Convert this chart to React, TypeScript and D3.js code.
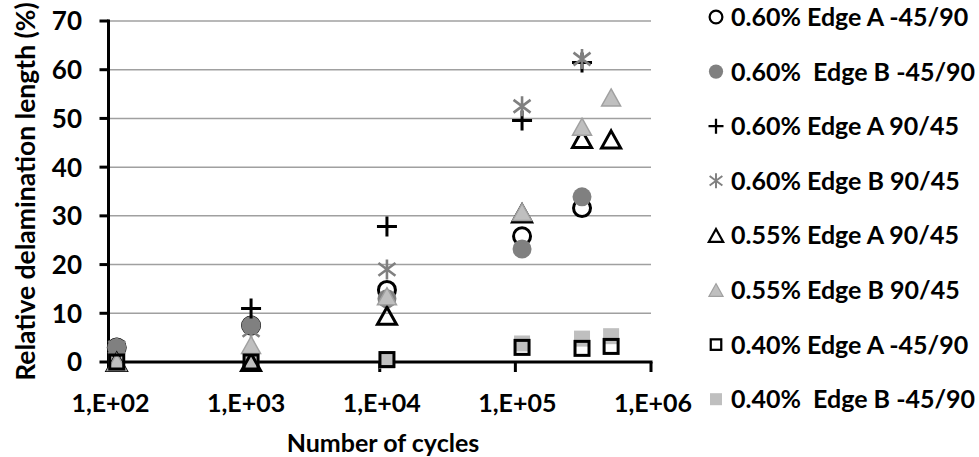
import React from "react";
import * as d3 from "d3";

const cycles = [115, 1125, 11300, 112000, 310000, 508000];
const yTicks = [0, 10, 20, 30, 40, 50, 60, 70];
const xTicks = [1e2, 1e3, 1e4, 1e5, 1e6];
const xTickLabels = ["1,E+02", "1,E+03", "1,E+04", "1,E+05", "1,E+06"];

const s060A_m45 = [3, 7.5, 14.8, 25.8, 31.6, null];
const s060B_m45 = [3, 7.5, 13, 23.2, 33.9, null];
const s060A_90 = [null, 11, 27.8, 49.6, 61.5, null];
const s060B_90 = [3, 6.5, 19, 52.5, 62.2, null];
const s055A_90 = [0, 0, 9.5, 30.5, 45.8, 45.7];
const s055B_90 = [0, 3.5, 13.5, 30.8, 48.3, 54.3];
const s040A_m45 = [0, 0, 0.5, 3, 2.8, 3.2];
const s040B_m45 = [0, 0, 0.3, 3.8, 4.8, 5.3];

const legendLabels = [
  "0.60% Edge A -45/90",
  "0.60%  Edge B -45/90",
  "0.60% Edge A 90/45",
  "0.60% Edge B 90/45",
  "0.55% Edge A 90/45",
  "0.55% Edge B 90/45",
  "0.40% Edge A -45/90",
  "0.40%  Edge B -45/90",
];

type Kind = "openCircle" | "grayCircle" | "plus" | "star" | "openTri" | "grayTri" | "openSq" | "graySq";

const series: { kind: Kind; values: (number | null)[]; label: string }[] = [
  { kind: "openCircle", values: s060A_m45, label: legendLabels[0] },
  { kind: "grayCircle", values: s060B_m45, label: legendLabels[1] },
  { kind: "plus", values: s060A_90, label: legendLabels[2] },
  { kind: "star", values: s060B_90, label: legendLabels[3] },
  { kind: "openTri", values: s055A_90, label: legendLabels[4] },
  { kind: "grayTri", values: s055B_90, label: legendLabels[5] },
  { kind: "openSq", values: s040A_m45, label: legendLabels[6] },
  { kind: "graySq", values: s040B_m45, label: legendLabels[7] },
];
const drawOrder = [7, 0, 1, 2, 3, 4, 5, 6];

const FONT = "Lato, 'Open Sans', sans-serif";

function Marker({ kind, x, y, s }: { kind: Kind; x: number; y: number; s: number }) {
  switch (kind) {
    case "openCircle":
      return <circle cx={x} cy={y} r={8.5 * s} fill="none" stroke="#000" strokeWidth={3 * s} />;
    case "grayCircle":
      return <circle cx={x} cy={y} r={9.5 * s} fill="#808080" />;
    case "plus": {
      const a = 10 * s;
      return (
        <path d={`M${x - a},${y}H${x + a}M${x},${y - a}V${y + a}`} stroke="#000" strokeWidth={3 * s} fill="none" />
      );
    }
    case "star": {
      const a = 10 * s;
      const d = 8.5 * s;
      return (
        <path
          d={`M${x},${y - a}V${y + a}M${x - d},${y - d * 0.75}L${x + d},${y + d * 0.75}M${x - d},${y + d * 0.75}L${x + d},${y - d * 0.75}`}
          stroke="#808080"
          strokeWidth={2.6 * s}
          fill="none"
        />
      );
    }
    case "openTri":
    case "grayTri": {
      const w = 9.5 * s;
      const h = 8.5 * s;
      const p = `M${x},${y - h}L${x + w},${y + h}L${x - w},${y + h}Z`;
      return kind === "openTri" ? (
        <path d={p} fill="none" stroke="#000" strokeWidth={3 * s} strokeLinejoin="miter" />
      ) : (
        <path d={p} fill="#bfbfbf" stroke="#a0a0a0" strokeWidth={1.5 * s} />
      );
    }
    case "openSq": {
      const a = 7 * s;
      return <rect x={x - a} y={y - a} width={2 * a} height={2 * a} fill="none" stroke="#000" strokeWidth={3 * s} />;
    }
    case "graySq": {
      const a = 8 * s;
      return <rect x={x - a} y={y - a} width={2 * a} height={2 * a} fill="#bfbfbf" />;
    }
  }
  return null;
}

export default function App() {
  const W = 979;
  const H = 457;
  const x = d3.scaleLog().domain([1e2, 1e6]).range([108.5, 651]);
  const y = d3.scaleLinear().domain([0, 70]).range([362, 21]);
  const fs = 25;

  return (
    <svg width={W} height={H} style={{ position: "absolute", left: 0, top: 0, background: "#fff" }} fontFamily={FONT}>
      <rect width={W} height={H} fill="#fff" />
      {yTicks.filter((t) => t > 0).map((t) => (
        <line key={t} x1={x(1e2) + 1.5} x2={x(1e6)} y1={y(t)} y2={y(t)} stroke="#a0a0a0" strokeWidth={1.5} />
      ))}
      <line x1={x(1e2)} x2={x(1e2)} y1={y(70) - 1.5} y2={y(0)} stroke="#000" strokeWidth={3} />
      {yTicks.map((t) => (
        <g key={t}>
          <line x1={x(1e2) - 9} x2={x(1e2)} y1={y(t)} y2={y(t)} stroke="#000" strokeWidth={3} />
          <text x={82} y={y(t)} dy="0.36em" textAnchor="end" fontSize={fs + 1} fontWeight={700}>
            {t}
          </text>
        </g>
      ))}
      <line x1={x(1e2) - 1.5} x2={x(1e6) + 1.5} y1={y(0)} y2={y(0)} stroke="#000" strokeWidth={3} />
      {xTicks.map((t, i) => (
        <g key={t}>
          <line x1={x(t)} x2={x(t)} y1={y(0)} y2={y(0) + 10} stroke="#000" strokeWidth={3} />
          <text x={x(t) + 2} y={403} dy="0.36em" textAnchor="middle" fontSize={fs} fontWeight={700}>
            {xTickLabels[i]}
          </text>
        </g>
      ))}
      <text x={383} y={443} dy="0.36em" textAnchor="middle" fontSize={fs} fontWeight={700}>
        Number of cycles
      </text>
      <text
        transform={`translate(25,${(y(0) + y(70)) / 2}) rotate(-90)`}
        dy="0.36em"
        textAnchor="middle"
        fontSize={26.5}
        fontWeight={700}
      >
        Relative delamination length (%)
      </text>
      {drawOrder.map((si) => {
        const sr = series[si];
        return (
          <g key={si}>
            {sr.values.map((v, i) =>
              v == null ? null : <Marker key={i} kind={sr.kind} x={x(cycles[i])} y={y(v)} s={1} />
            )}
          </g>
        );
      })}
      {series.map((sr, i) => {
        const ly = 17 + 54.6 * i;
        return (
          <g key={i}>
            <Marker kind={sr.kind} x={716} y={ly} s={0.75} />
            <text x={731} y={ly} dy="0.36em" fontSize={fs} fontWeight={700} style={{ whiteSpace: "pre" }}>
              {sr.label}
            </text>
          </g>
        );
      })}
    </svg>
  );
}
